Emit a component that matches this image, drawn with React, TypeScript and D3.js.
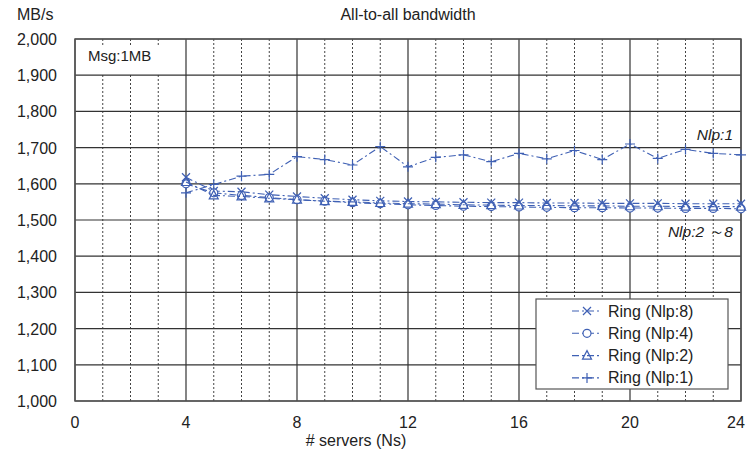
import * as d3 from "d3";
import { useEffect, useRef } from "react";

// servers (Ns)
const servers = [4, 5, 6, 7, 8, 9, 10, 11, 12, 13, 14, 15, 16, 17, 18, 19, 20, 21, 22, 23, 24];
const nlp8 = [1618, 1580, 1578, 1570, 1565, 1560, 1556, 1553, 1551, 1550, 1549, 1548, 1548, 1547, 1547, 1546, 1546, 1546, 1545, 1545, 1545];
const nlp4 = [1600, 1575, 1568, 1562, 1556, 1552, 1548, 1545, 1542, 1540, 1538, 1537, 1536, 1535, 1534, 1534, 1533, 1533, 1532, 1532, 1531];
const nlp2 = [1605, 1568, 1565, 1560, 1556, 1552, 1550, 1547, 1545, 1544, 1542, 1541, 1540, 1540, 1539, 1539, 1538, 1538, 1537, 1537, 1537];
const nlp1 = [1575, 1598, 1621, 1626, 1675, 1667, 1652, 1703, 1647, 1673, 1680, 1661, 1684, 1669, 1692, 1667, 1710, 1670, 1695, 1684, 1680];
const xTicks = [0, 4, 8, 12, 16, 20, 24];
const yTicks = [1000, 1100, 1200, 1300, 1400, 1500, 1600, 1700, 1800, 1900, 2000];

const seriesList = [
    { name: "Ring (Nlp:8)", values: nlp8, marker: "x" },
    { name: "Ring (Nlp:4)", values: nlp4, marker: "o" },
    { name: "Ring (Nlp:2)", values: nlp2, marker: "tri" },
    { name: "Ring (Nlp:1)", values: nlp1, marker: "plus" },
];

const App = () => {
    const ref = useRef<SVGSVGElement>(null);

    useEffect(() => {
        const svg = d3.select(ref.current);
        svg.selectAll("*").remove();
        drawChart(svg);
    }, []);

    const drawChart = (svg: any) => {
        const left = 75, right = 741, top = 39, bottom = 401;
        const font = "'Liberation Sans', Arial, sans-serif";
        const blue = "#3f60b4";
        const ink = "#222";

        const x = d3.scaleLinear().domain([0, 24]).range([left, right]);
        const y = d3.scaleLinear().domain([1000, 2000]).range([bottom, top]);

        svg.append("rect").attr("width", 747).attr("height", 449).attr("fill", "#fff");

        // minor dotted verticals
        const minor = d3.range(1, 24).filter((d) => d % 4 !== 0);
        svg.append("g").selectAll("line").data(minor).join("line")
            .attr("x1", (d) => x(d)).attr("x2", (d) => x(d))
            .attr("y1", top).attr("y2", bottom)
            .attr("stroke", "#444").attr("stroke-width", 1)
            .attr("stroke-dasharray", "2,2");

        // Msg label box hides the dotted lines
        svg.append("rect").attr("x", left + 1).attr("y", top + 8)
            .attr("width", x(4) - left - 2).attr("height", y(1900) - top - 9)
            .attr("fill", "#fff");

        // horizontal grid
        svg.append("g").selectAll("line").data(yTicks).join("line")
            .attr("x1", left).attr("x2", right)
            .attr("y1", (d) => y(d)).attr("y2", (d) => y(d))
            .attr("stroke", "#333").attr("stroke-width", 1.2);

        // major verticals
        svg.append("g").selectAll("line").data(xTicks).join("line")
            .attr("x1", (d) => x(d)).attr("x2", (d) => x(d))
            .attr("y1", top).attr("y2", bottom)
            .attr("stroke", "#333").attr("stroke-width", 1.2);

        svg.append("rect").attr("x", left).attr("y", top)
            .attr("width", right - left).attr("height", bottom - top)
            .attr("fill", "none").attr("stroke", "#555").attr("stroke-width", 1.5);

        svg.append("text").attr("x", 88).attr("y", 61)
            .attr("font-family", font).attr("font-size", 15).attr("fill", ink)
            .text("Msg:1MB");

        // series
        const line = d3.line<number>()
            .x((d, i) => x(servers[i]))
            .y((d) => y(d));

        const drawMarker = (g: any, kind: string, cx: number, cy: number) => {
            if (kind === "x") {
                g.append("path").attr("d", `M${cx - 4},${cy - 4}L${cx + 4},${cy + 4}M${cx - 4},${cy + 4}L${cx + 4},${cy - 4}`)
                    .attr("stroke", blue).attr("stroke-width", 1.2).attr("fill", "none");
            } else if (kind === "o") {
                g.append("circle").attr("cx", cx).attr("cy", cy).attr("r", 4)
                    .attr("stroke", blue).attr("stroke-width", 1.2).attr("fill", "#fff");
            } else if (kind === "tri") {
                g.append("path").attr("d", `M${cx},${cy - 5}L${cx + 4.5},${cy + 3.5}L${cx - 4.5},${cy + 3.5}Z`)
                    .attr("stroke", blue).attr("stroke-width", 1.2).attr("fill", "none");
            } else {
                g.append("path").attr("d", `M${cx - 5},${cy}L${cx + 5},${cy}M${cx},${cy - 5}L${cx},${cy + 5}`)
                    .attr("stroke", blue).attr("stroke-width", 1.2).attr("fill", "none");
            }
        };

        seriesList.forEach((s) => {
            const g = svg.append("g");
            g.append("path").datum(s.values).attr("d", line)
                .attr("fill", "none").attr("stroke", blue).attr("stroke-width", 1.1)
                .attr("stroke-dasharray", "7,3,2,3");
            s.values.forEach((v, i) => drawMarker(g, s.marker, x(servers[i]), y(v)));
        });

        svg.append("text").attr("x", 733).attr("y", 140).attr("text-anchor", "end")
            .attr("font-family", font).attr("font-size", 15.5).attr("font-style", "italic").attr("fill", ink)
            .text("Nlp:1");
        svg.append("text").attr("x", 733).attr("y", 237).attr("text-anchor", "end")
            .attr("font-family", font).attr("font-size", 15.5).attr("font-style", "italic").attr("fill", ink)
            .text("Nlp:2 ～8");

        // axes labels
        svg.append("g").selectAll("text").data(yTicks).join("text")
            .attr("x", 57).attr("y", (d) => y(d) + 6).attr("text-anchor", "end")
            .attr("font-family", font).attr("font-size", 16).attr("fill", ink)
            .text((d) => d3.format(",")(d));
        svg.append("g").selectAll("text").data(xTicks).join("text")
            .attr("x", (d) => x(d)).attr("dx", (d) => (d === 24 ? -5 : 0))
            .attr("y", 428).attr("text-anchor", "middle")
            .attr("font-family", font).attr("font-size", 16).attr("fill", ink)
            .text((d) => d);

        svg.append("text").attr("x", 17).attr("y", 20)
            .attr("font-family", font).attr("font-size", 16).attr("fill", ink).text("MB/s");
        svg.append("text").attr("x", 408).attr("y", 20).attr("text-anchor", "middle")
            .attr("font-family", font).attr("font-size", 16).attr("fill", ink).text("All-to-all bandwidth");
        svg.append("text").attr("x", 356).attr("y", 446).attr("text-anchor", "middle")
            .attr("font-family", font).attr("font-size", 16).attr("fill", ink).text("# servers (Ns)");

        // legend
        const lg = svg.append("g");
        lg.append("rect").attr("x", 536).attr("y", 299).attr("width", 192).attr("height", 90)
            .attr("fill", "#fff").attr("stroke", "#555").attr("stroke-width", 1.2);
        seriesList.forEach((s, i) => {
            const ly = 311 + i * 22.3;
            lg.append("line").attr("x1", 572).attr("x2", 601).attr("y1", ly).attr("y2", ly)
                .attr("stroke", blue).attr("stroke-width", 1.1).attr("stroke-dasharray", "7,3,2,3");
            drawMarker(lg, s.marker, 587, ly);
            lg.append("text").attr("x", 608).attr("y", ly + 5.5)
                .attr("font-family", font).attr("font-size", 16).attr("fill", ink).text(s.name);
        });
    };

    return <svg ref={ref} width={747} height={449} style={{ position: "absolute", left: 0, top: 0 }}></svg>;
};

export default App;
